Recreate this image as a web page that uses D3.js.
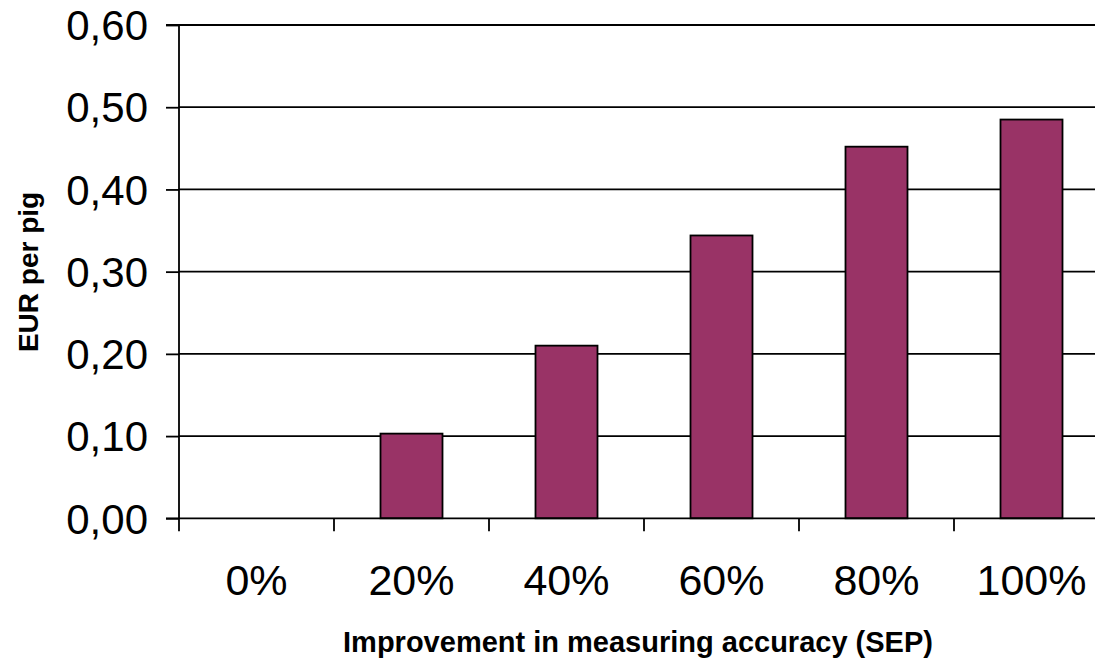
<!DOCTYPE html>
<html>
<head>
<meta charset="utf-8">
<script src="https://cdn.jsdelivr.net/npm/d3@7"></script>
<style>
  html, body { margin: 0; padding: 0; background: #fff; }
  svg { display: block; font-family: "Liberation Sans", Arial, sans-serif; }
</style>
</head>
<body>
<svg id="chart" width="1095" height="661"></svg>
<script>
// Value of improved measuring accuracy, EUR per pig
const categories = ["0%", "20%", "40%", "60%", "80%", "100%"];
const values = [0.0, 0.103, 0.21, 0.344, 0.452, 0.485];
const yTicks = [0, 0.1, 0.2, 0.3, 0.4, 0.5, 0.6];
const yTickLabels = ["0,00", "0,10", "0,20", "0,30", "0,40", "0,50", "0,60"];
const xTitle = "Improvement in measuring accuracy (SEP)";
const yTitle = "EUR per pig";

const svg = d3.select("#chart");
const plotLeft = 179, plotRight = 1109, plotTop = 25, plotBottom = 518.3;

const x = d3.scaleBand()
  .domain(categories)
  .range([plotLeft, plotRight])
  .paddingInner(0.6)
  .paddingOuter(0.3);

const y = d3.scaleLinear().domain([0, 0.6]).range([plotBottom, plotTop]);

const step = x.step();
const gap = (step - x.bandwidth()) / 2;

// horizontal gridlines
svg.append("g")
  .selectAll("line")
  .data(yTicks.filter(d => d > 0))
  .join("line")
  .attr("x1", plotLeft).attr("x2", plotRight)
  .attr("y1", d => y(d)).attr("y2", d => y(d))
  .attr("stroke", "#000").attr("stroke-width", 1.8);

// bars
svg.append("g")
  .selectAll("rect")
  .data(values.map((v, i) => ({ c: categories[i], v })))
  .join("rect")
  .attr("x", d => x(d.c))
  .attr("width", x.bandwidth())
  .attr("y", d => y(d.v))
  .attr("height", d => y(0) - y(d.v))
  .attr("fill", "#993366")
  .attr("stroke", "#000")
  .attr("stroke-width", 1.8);

// y axis
const yAxis = d3.axisLeft(y)
  .tickValues(yTicks)
  .tickSize(13)
  .tickPadding(18)
  .tickFormat((d, i) => yTickLabels[i]);

svg.append("g")
  .attr("transform", `translate(${plotLeft},0)`)
  .call(yAxis)
  .call(g => g.select(".domain").attr("stroke", "#000").attr("stroke-width", 1.8).attr("d", `M-13,${plotTop}H0V${plotBottom}`))
  .call(g => g.selectAll(".tick line").attr("stroke", "#000").attr("stroke-width", 1.8))
  .call(g => g.selectAll(".tick text")
    .attr("font-size", 42)
    .attr("font-family", "'Liberation Sans', Arial, sans-serif")
    .attr("fill", "#000")
    .attr("dy", "0.35em"));

// x axis: baseline with tick marks on category boundaries
const bounds = categories.map(c => x(c) - gap).concat([x(categories[categories.length - 1]) + x.bandwidth() + gap]);
const xg = svg.append("g");
xg.append("line")
  .attr("x1", plotLeft - 13).attr("x2", plotRight)
  .attr("y1", y(0)).attr("y2", y(0))
  .attr("stroke", "#000").attr("stroke-width", 1.8);
xg.selectAll("line.tick")
  .data(bounds)
  .join("line")
  .attr("class", "tick")
  .attr("x1", d => d).attr("x2", d => d)
  .attr("y1", y(0)).attr("y2", y(0) + 13)
  .attr("stroke", "#000").attr("stroke-width", 1.8);
xg.selectAll("text")
  .data(categories)
  .join("text")
  .attr("x", d => x(d) + x.bandwidth() / 2)
  .attr("y", 595)
  .attr("text-anchor", "middle")
  .attr("font-size", 43)
  .attr("fill", "#000")
  .text(d => d);

// axis titles
svg.append("text")
  .attr("x", 638)
  .attr("y", 652)
  .attr("text-anchor", "middle")
  .attr("font-size", 29)
  .attr("font-weight", "bold")
  .attr("fill", "#000")
  .text(xTitle);

svg.append("text")
  .attr("transform", `translate(38,272) rotate(-90)`)
  .attr("text-anchor", "middle")
  .attr("font-size", 28)
  .attr("font-weight", "bold")
  .attr("fill", "#000")
  .text(yTitle);
</script>
</body>
</html>
